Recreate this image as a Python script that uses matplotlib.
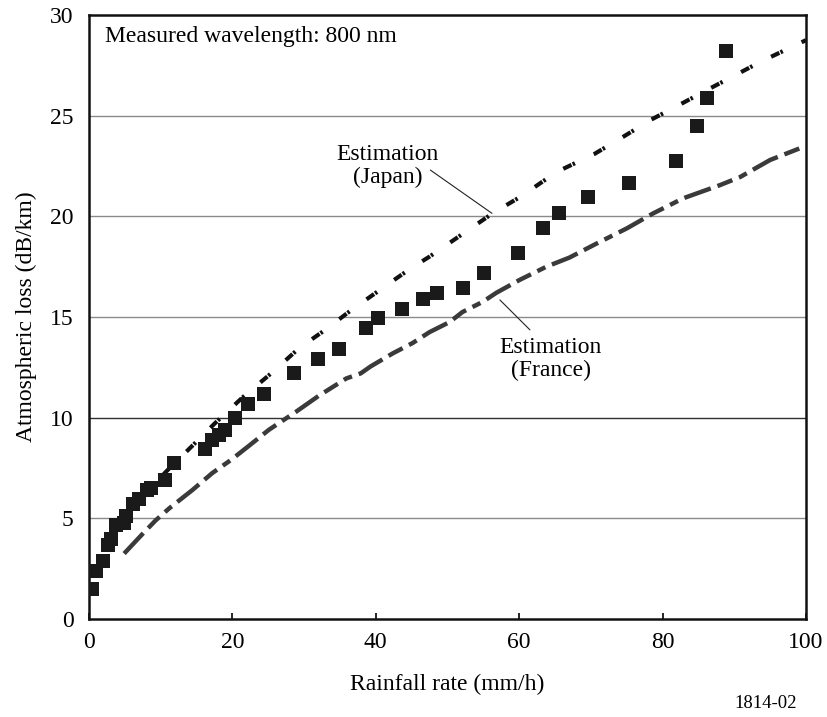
import matplotlib
matplotlib.use("Agg")
import matplotlib.pyplot as plt

plt.rcParams['font.family'] = ['Liberation Serif', 'DejaVu Serif']

# Measured data (squares)
measured_rate = [0.4, 1.0, 2.0, 2.7, 3.0, 3.7, 4.9, 5.1, 6.1, 7.0, 8.1, 8.6, 10.6, 11.9,
                 16.2, 17.2, 18.2, 19.0, 20.4, 22.2, 24.4, 28.6, 32.0, 34.9, 38.6, 40.3,
                 43.6, 46.6, 48.5, 52.1, 55.1, 59.8, 63.3, 65.6, 69.6, 75.3, 81.9, 84.8,
                 86.2, 88.8]
measured_loss = [1.5, 2.4, 2.9, 3.7, 3.95, 4.65, 4.75, 5.1, 5.7, 5.95, 6.4, 6.5, 6.9, 7.75,
                 8.45, 8.9, 9.15, 9.4, 10.0, 10.7, 11.2, 12.2, 12.9, 13.4, 14.45, 14.95,
                 15.4, 15.9, 16.2, 16.45, 17.2, 18.2, 19.4, 20.15, 20.95, 21.65, 22.75, 24.5,
                 25.9, 28.2]

# Estimation (Japan)
japan_rate = [4.5, 7.0, 10.7, 14.4, 17.5, 21.4, 25.4, 29.3, 33.1, 36.6, 39.6, 44.6, 47.5,
              56.3, 60.3, 65.2, 70.5, 74.5, 78.4, 82.4, 86.6, 89.8, 93.8, 100]
japan_loss = [4.5, 5.9, 7.3, 8.6, 9.7, 11.0, 12.2, 13.45, 14.4, 15.35, 16.1, 17.35, 18.0,
              20.15, 21.0, 22.2, 23.1, 23.95, 24.8, 25.55, 26.35, 26.95, 27.7, 28.75]

# Estimation (France)
france_rate = [4.9, 7.4, 9.3, 11.2, 14.4, 17.2, 19.8, 22.3, 25.1, 28.9, 32.1, 35.9, 37.9,
               39.3, 42.4, 45.1, 47.5, 50.3, 52.1, 54.9, 56.8, 60.1, 63.8, 67.0, 70.8,
               75.0, 78.7, 82.9, 88.0, 90.8, 95.0, 100]
france_loss = [3.25, 4.2, 4.9, 5.5, 6.4, 7.25, 7.9, 8.6, 9.4, 10.3, 11.1, 11.95, 12.2,
               12.55, 13.2, 13.7, 14.25, 14.75, 15.25, 15.75, 16.2, 16.85, 17.5, 17.95, 18.65,
               19.4, 20.15, 20.9, 21.55, 21.95, 22.8, 23.5]

x_ticks = [0, 20, 40, 60, 80, 100]
y_ticks = [0, 5, 10, 15, 20, 25, 30]
grid_levels = [5, 10, 15, 20, 25]

W, H = 827, 717
fig = plt.figure(figsize=(W / 100, H / 100), dpi=100)
ax = fig.add_axes([89 / W, 98 / H, 717 / W, 604 / H])

for g in grid_levels:
    ax.axhline(g, color='#303030' if g == 10 else '#8a8a8a', lw=1.0, zorder=1)

ax.plot(france_rate, france_loss, color='#3a3a3a', lw=3.2,
        dashes=(6.3, 1.6, 3.6, 1.6, 2.0, 1.6), zorder=2)
ax.plot(japan_rate, japan_loss, color='#111111', lw=3.0,
        dashes=(2.2, 0.3, 0.6, 5.0), zorder=2)
ax.plot(measured_rate, measured_loss, 's', color='#1a1a1a', markersize=9.4,
        markeredgewidth=0, zorder=3)

ax.set_xlim(0, 100)
ax.set_ylim(0, 30)
ax.set_xticks(x_ticks)
ax.set_yticks(y_ticks)
ax.tick_params(axis='x', direction='in', length=4, width=1.2, pad=9, labelsize=17)
ax.tick_params(axis='y', length=0, pad=11, labelsize=17)
for s in ax.spines.values():
    s.set_linewidth(1.8)
    s.set_color('#111111')

ax.set_xlabel('Rainfall rate (mm/h)', fontsize=17)
ax.xaxis.set_label_coords(0.5, (619 - 684) / 604)
ax.xaxis.label.set_va('center')
ax.set_ylabel('Atmospheric loss (dB/km)', fontsize=17)
ax.yaxis.set_label_coords((26 - 89) / 717, 0.5)
ax.yaxis.label.set_va('center')

ax.text(0.022, 0.965, 'Measured wavelength: 800 nm', transform=ax.transAxes,
        fontsize=17, ha='left', va='center')

ax.text(41.6, 22.5, 'Estimation\n(Japan)', fontsize=17, ha='center', va='center',
        linespacing=1.1)
ax.annotate('', xy=(56.2, 20.15), xytext=(47.6, 22.3),
            arrowprops=dict(arrowstyle='-', lw=0.8, color='#222222',
                            shrinkA=0, shrinkB=0))
ax.text(64.4, 12.9, 'Estimation\n(France)', fontsize=17, ha='center', va='center',
        linespacing=1.1)
ax.annotate('', xy=(57.3, 15.85), xytext=(61.5, 14.36),
            arrowprops=dict(arrowstyle='-', lw=0.8, color='#222222',
                            shrinkA=0, shrinkB=0))

fig.text(766 / W, 1 - 703 / H, '1814-02', fontsize=13.5, ha='center', va='center')

fig.savefig('out.png', dpi=100)
